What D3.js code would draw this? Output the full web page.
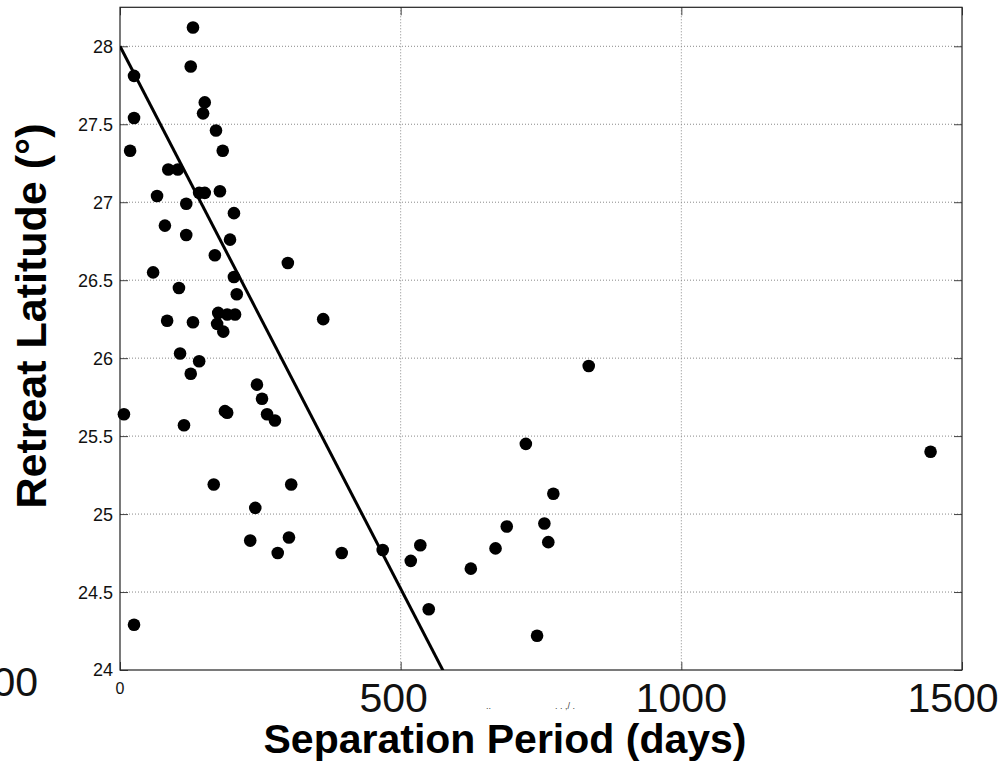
<!DOCTYPE html>
<html>
<head>
<meta charset="utf-8">
<script src="https://cdn.jsdelivr.net/npm/d3@7"></script>
<style>
  body { margin: 0; background: #fff; }
  svg text { font-family: Arial, "Liberation Sans", Helvetica, sans-serif; }
</style>
</head>
<body>
<div id="chart"></div>
<script>
// separation period (days) vs retreat latitude (deg)
const periodDays = [130, 126, 25, 151, 148, 25, 171, 18, 183, 86, 103, 141, 151, 178, 66, 118, 203, 80, 118, 196,
    169, 299, 59, 203, 105, 208, 175, 191, 205, 84, 130, 173, 184, 362, 107, 141, 126, 244, 253, 7,
    187, 191, 262, 276, 114, 167, 305, 25, 232, 241, 281, 301, 395,
    835, 723, 1444, 772, 756, 689, 535, 763, 669, 468, 518, 625, 550, 743];
const retreatLat = [28.12, 27.87, 27.81, 27.64, 27.57, 27.54, 27.46, 27.33, 27.33, 27.21, 27.21, 27.06, 27.06, 27.07, 27.04, 26.99, 26.93, 26.85, 26.79, 26.76,
    26.66, 26.61, 26.55, 26.52, 26.45, 26.41, 26.29, 26.28, 26.28, 26.24, 26.23, 26.22, 26.17, 26.25, 26.03, 25.98, 25.90, 25.83, 25.74, 25.64,
    25.66, 25.65, 25.64, 25.60, 25.57, 25.19, 25.19, 24.29, 24.83, 25.04, 24.75, 24.85, 24.75,
    25.95, 25.45, 25.40, 25.13, 24.94, 24.92, 24.80, 24.82, 24.78, 24.77, 24.70, 24.65, 24.39, 24.22];

// least squares line as drawn
const fitIntercept = 28.0;
const fitSlope = -0.006957;

const xTicks = [0, 500, 1000, 1500];
const yTicks = [24, 24.5, 25, 25.5, 26, 26.5, 27, 27.5, 28];
const yTickLabels = ['24', '24.5', '25', '25.5', '26', '26.5', '27', '27.5', '28'];
const bigXLabels = ['500', '1000', '1500'];

const W = 1006, H = 773;
const plotL = 120, plotR = 962, plotT = 7.3, plotB = 670;

const svg = d3.select('#chart').append('svg')
    .attr('width', W)
    .attr('height', H);

const x = d3.scaleLinear().domain([0, 1500]).range([plotL, plotR]);
const y = d3.scaleLinear().domain([24, 28.25]).range([plotB, plotT]);

svg.append('defs').append('clipPath').attr('id', 'plotclip')
    .append('rect')
    .attr('x', plotL).attr('y', plotT)
    .attr('width', plotR - plotL).attr('height', plotB - plotT);

// grid
svg.selectAll('.vgrid')
    .data(xTicks.filter(d => d > 0 && d < 1500))
    .enter().append('line').attr('class', 'vgrid')
    .attr('x1', d => x(d)).attr('x2', d => x(d))
    .attr('y1', plotT).attr('y2', plotB)
    .style('stroke', '#888')
    .style('stroke-width', '1px')
    .style('stroke-dasharray', '1,2');

svg.selectAll('.hgrid')
    .data(yTicks.filter(d => d > 24))
    .enter().append('line').attr('class', 'hgrid')
    .attr('x1', plotL).attr('x2', plotR)
    .attr('y1', d => y(d)).attr('y2', d => y(d))
    .style('stroke', '#888')
    .style('stroke-width', '1px')
    .style('stroke-dasharray', '1,2');

// inner ticks, all four sides
const tickLen = 8;
const axL = svg.append('g').attr('transform', `translate(${plotL},0)`)
    .call(d3.axisRight(y).tickValues(yTicks).tickSize(tickLen).tickFormat(''));
const axR = svg.append('g').attr('transform', `translate(${plotR},0)`)
    .call(d3.axisLeft(y).tickValues(yTicks).tickSize(tickLen).tickFormat(''));
const axB = svg.append('g').attr('transform', `translate(0,${plotB})`)
    .call(d3.axisTop(x).tickValues(xTicks).tickSize(tickLen).tickFormat(''));
const axT = svg.append('g').attr('transform', `translate(0,${plotT})`)
    .call(d3.axisBottom(x).tickValues(xTicks).tickSize(tickLen).tickFormat(''));
[axL, axR, axB, axT].forEach(g => {
    g.select('.domain').remove();
    g.selectAll('line').style('stroke', '#444').style('stroke-width', '1px');
});

// box
svg.append('rect')
    .attr('x', plotL).attr('y', plotT)
    .attr('width', plotR - plotL).attr('height', plotB - plotT)
    .style('fill', 'none')
    .style('stroke', '#222')
    .style('stroke-width', '1.2px');

// y tick labels
svg.selectAll('.ylab')
    .data(yTicks)
    .enter().append('text').attr('class', 'ylab')
    .attr('x', plotL - 7)
    .attr('y', d => y(d))
    .attr('dy', '0.36em')
    .attr('text-anchor', 'end')
    .style('font-size', '18px')
    .style('fill', '#111')
    .text((d, i) => yTickLabels[i]);

// small "0" under the origin
svg.append('text')
    .attr('x', x(0))
    .attr('y', plotB + 24)
    .attr('text-anchor', 'middle')
    .style('font-size', '16px')
    .style('fill', '#111')
    .text('0');

// oversized tick labels overprinted from the original export
const bigOffsets = [-7, 0, -9];
svg.selectAll('.bigx')
    .data(bigXLabels)
    .enter().append('text').attr('class', 'bigx')
    .attr('x', (d, i) => x(+d) + bigOffsets[i])
    .attr('y', 712)
    .attr('text-anchor', 'middle')
    .style('font-size', '41px')
    .style('fill', '#111')
    .text(d => d);

svg.append('text')
    .attr('x', 38)
    .attr('y', 696)
    .attr('text-anchor', 'end')
    .style('font-size', '41px')
    .style('fill', '#111')
    .text('500');

// stray fragments of a clipped label
svg.append('text')
    .attr('x', 486).attr('y', 709)
    .style('font-size', '9px').style('fill', '#444')
    .text('..');
svg.append('text')
    .attr('x', 555).attr('y', 709)
    .style('font-size', '9px').style('fill', '#444')
    .text('.   . ,/ .');

// regression line
const fitLine = d3.line()
    .x(d => x(d))
    .y(d => y(fitIntercept + fitSlope * d));
svg.append('path')
    .datum([0, 1500])
    .attr('clip-path', 'url(#plotclip)')
    .attr('d', fitLine)
    .style('fill', 'none')
    .style('stroke', '#000')
    .style('stroke-width', '3px');

// points
const pts = periodDays.map((d, i) => ({p: d, lat: retreatLat[i]}));
svg.selectAll('.dot')
    .data(pts)
    .enter().append('circle').attr('class', 'dot')
    .attr('cx', d => x(d.p))
    .attr('cy', d => y(d.lat))
    .attr('r', 6.3)
    .style('fill', '#000');

// axis titles
svg.append('text')
    .attr('x', 505)
    .attr('y', 753)
    .attr('text-anchor', 'middle')
    .style('font-size', '41px')
    .style('font-weight', 'bold')
    .style('fill', '#000')
    .text('Separation Period (days)');

svg.append('text')
    .attr('transform', 'translate(46,316) rotate(-90)')
    .attr('text-anchor', 'middle')
    .style('font-size', '43px')
    .style('font-weight', 'bold')
    .style('fill', '#000')
    .text('Retreat Latitude (°)');
</script>
</body>
</html>
